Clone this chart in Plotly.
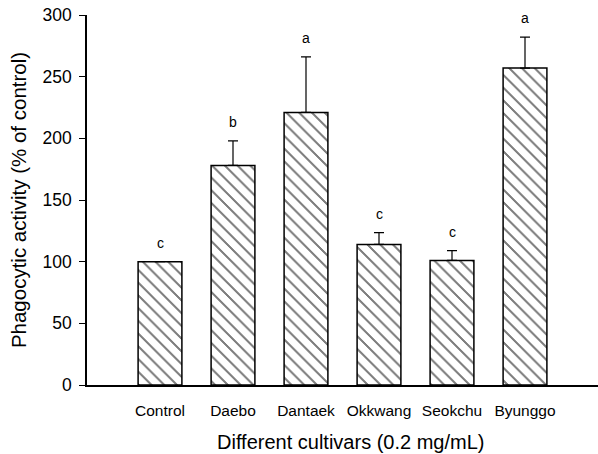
import plotly.graph_objects as go

categories = ["Control", "Daebo", "Dantaek", "Okkwang", "Seokchu", "Byunggo"]
values = [100, 178, 221, 114, 101, 257]
errors = [0, 20, 45, 9.5, 8, 25]
letters = ["c", "b", "a", "c", "c", "a"]
y_ticks = [0, 50, 100, 150, 200, 250, 300]
x_title = "Different cultivars (0.2 mg/mL)"
y_title = "Phagocytic activity (% of control)"

FONT = "Liberation Sans, Arial, sans-serif"
xs = list(range(len(categories)))

fig = go.Figure()
fig.add_trace(go.Bar(
    x=xs, y=values, width=0.6,
    marker=dict(color="white", line=dict(color="black", width=1.5),
                pattern=dict(shape="\\", fgcolor="black", bgcolor="white",
                             size=9, solidity=0.17)),
    error_y=dict(type="data", symmetric=False, array=errors,
                 arrayminus=[0] * len(errors), color="black",
                 thickness=1.2, width=5),
    showlegend=False,
))

for x, v, e, t in zip(xs, values, errors, letters):
    fig.add_annotation(x=x, y=v + e, text=t, showarrow=False,
                       yanchor="middle", yshift=19,
                       font=dict(family=FONT, size=14, color="black"))

fig.add_annotation(xref="paper", yref="paper", x=0.517, y=-0.155,
                   text=x_title, showarrow=False,
                   xanchor="center", yanchor="middle",
                   font=dict(family=FONT, size=20, color="black"))

fig.update_layout(
    width=598, height=454,
    margin=dict(l=87, r=0, t=15, b=69),
    plot_bgcolor="white", paper_bgcolor="white",
    bargap=0.4,
    font=dict(family=FONT, color="black"),
)
fig.update_xaxes(
    range=[-1, 6], tickvals=xs, ticktext=categories,
    showline=True, linecolor="black", linewidth=1.5,
    ticks="", showgrid=False, zeroline=False,
    tickfont=dict(size=15.5), ticklabelstandoff=11,
)
fig.update_yaxes(
    range=[0, 300], tickvals=y_ticks,
    showline=True, linecolor="black", linewidth=1.5,
    ticks="outside", ticklen=6, tickwidth=1.2, tickcolor="black",
    showgrid=False, zeroline=False,
    tickfont=dict(size=17.5), ticklabelstandoff=4,
    title=dict(text=y_title, font=dict(size=20.5), standoff=10),
)

crisp = """
function crisp(){
  document.querySelectorAll('pattern path, pattern line').forEach(function(p){
    p.setAttribute('shape-rendering','crispEdges');
  });
}
crisp();
var gd = document.getElementById('{plot_id}');
if (gd && gd.on) { gd.on('plotly_afterplot', crisp); }
"""
fig.write_html("out.html", post_script=crisp)
